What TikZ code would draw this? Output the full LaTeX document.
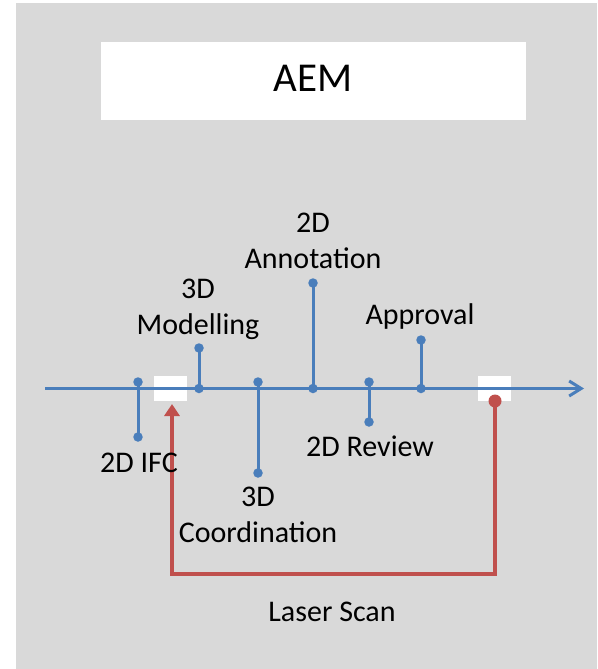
\documentclass[tikz,border=0pt]{standalone}
\usepackage{fontspec}
\setmainfont{Carlito}
\usetikzlibrary{arrows.meta}
\definecolor{bgray}{HTML}{D9D9D9}
\definecolor{tblue}{HTML}{4A7EBB}
\definecolor{tred}{HTML}{C0504D}
\begin{document}
\begin{tikzpicture}[x=1pt,y=-1pt,
  dot/.style={circle,fill=tblue,inner sep=0pt,minimum size=9.5pt},
  tickline/.style={draw=tblue,line width=3pt},
  lbl/.style={font=\fontsize{30}{35.5}\selectfont,align=center,anchor=base,inner sep=0pt,text=black},
  gapbox/.style={fill=white,draw=none,inner sep=0pt,minimum width=33pt,minimum height=25pt}]
\useasboundingbox (0,0) rectangle (597,669);
\fill[bgray] (16,3) rectangle (597,669);
% title
\node[fill=white,minimum width=425pt,minimum height=78pt,inner sep=0pt] (title) at (313.5,81) {};
\node[font=\fontsize{41}{41}\selectfont,anchor=base,inner sep=0pt] (aem) at (313,92) {AEM};
% white gaps
\node[gapbox] (g1) at (170.5,388.5) {};
\node[gapbox] (g2) at (494.5,388.5) {};
% timeline
\coordinate (ts) at (45,388.5);
\coordinate (te) at (584,388.5);
\draw[tblue,line width=3pt,-{Straight Barb[length=12pt,width=15pt]}] (ts) -- (te);
% ticks
\node[dot] (a1) at (138,382) {};
\node[dot] (a2) at (138,437) {};
\draw[tickline] (a1.center) -- (a2.center);
\node[dot] (b1) at (199,348) {};
\node[dot] (b2) at (199,388.5) {};
\draw[tickline] (b1.center) -- (b2.center);
\node[dot] (c1) at (258,382) {};
\node[dot] (c2) at (258,473) {};
\draw[tickline] (c1.center) -- (c2.center);
\node[dot] (d1) at (313,283) {};
\node[dot] (d2) at (313,388.5) {};
\draw[tickline] (d1.center) -- (d2.center);
\node[dot] (e1) at (369,382) {};
\node[dot] (e2) at (369,422) {};
\draw[tickline] (e1.center) -- (e2.center);
\node[dot] (f1) at (421,340) {};
\node[dot] (f2) at (421,388.5) {};
\draw[tickline] (f1.center) -- (f2.center);
% red loop
\coordinate (rs) at (495,401);
\coordinate (rb1) at (495,574);
\coordinate (rb2) at (172,574);
\coordinate (rt) at (172,404);
\draw[tred,line width=4pt,-{Triangle[length=12pt,width=15pt]}] (rs) -- (rb1) -- (rb2) -- (rt);
\node[circle,fill=tred,inner sep=0pt,minimum size=13pt] (rdot) at (rs) {};
% labels
\node[lbl] (l1) at (139,472) {2D IFC};
\node[lbl] (l2) at (198,334) {3D\\Modelling};
\node[lbl] (l3) at (258,542) {3D\\Coordination};
\node[lbl] (l4) at (313,268) {2D\\Annotation};
\node[lbl] (l5) at (370,456) {2D Review};
\node[lbl] (l6) at (420,324) {Approval};
\node[lbl] (l7) at (332,621) {Laser Scan};
\end{tikzpicture}
\end{document}
